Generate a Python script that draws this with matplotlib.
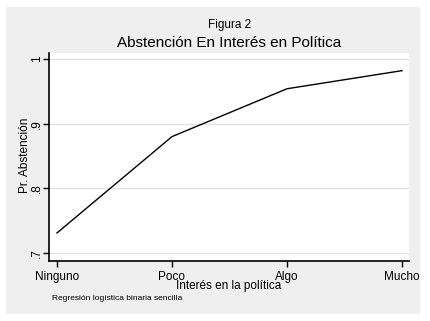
import matplotlib.pyplot as plt
from matplotlib.patches import Rectangle

plt.rcParams['font.family'] = ['Liberation Sans', 'DejaVu Sans']

# predicted probabilities
categorias = ['Ninguno', 'Poco', 'Algo', 'Mucho']
prob = [0.731, 0.880, 0.954, 0.982]
yticks = [0.7, 0.8, 0.9, 1.0]
ylabels = ['.7', '.8', '.9', '1']

W, H = 431, 321
fig = plt.figure(figsize=(W/100, H/100), dpi=100)
fig.patch.set_facecolor('white')
# grey graph region (stata style)
fig.patches.append(Rectangle((6/W, 1-314/H), 414/W, 307/H, transform=fig.transFigure,
                             facecolor='#efefef', edgecolor='none', zorder=-5))

ax = fig.add_axes([49/W, 1-261/H, 360/W, 208/H])
ax.set_zorder(2)
ax.set_facecolor('white')
x = list(range(len(categorias)))
ax.plot(x, prob, color='black', lw=1.0, zorder=3)

ax.set_xlim(-0.0696, 3.061)
ax.set_ylim(0.6876, 1.0093)
ax.set_xticks(x)
ax.set_xticklabels(categorias, fontsize=8.5)
ax.set_yticks(yticks)
ax.set_yticklabels(ylabels, fontsize=8.5, rotation=90, va='center')
ax.yaxis.grid(True, color='#e2e2e2', lw=1.0)
ax.set_axisbelow(True)
for s in ['top', 'right']:
    ax.spines[s].set_visible(False)
for s in ['left', 'bottom']:
    ax.spines[s].set_linewidth(1.2)
ax.tick_params(direction='out', length=4, width=1, color='black')
ax.tick_params(axis='x', pad=3)
ax.tick_params(axis='y', pad=0.5)

fig.text(229/W, 1-286/H, 'Interés en la política', fontsize=8.5, ha='center', va='center')
fig.text(25/W, 1-155/H, 'Pr. Abstención', fontsize=8.5, ha='center', va='center', rotation=90)
fig.text(230/W, 1-25/H, 'Figura 2', fontsize=8.5, ha='center', va='center')
fig.text(229/W, 1-43/H, 'Abstención En Interés en Política', fontsize=11, ha='center', va='center')
fig.text(52/W, 1-299/H, 'Regresión logística binaria sencilla', fontsize=6, ha='left', va='center')

fig.savefig('out.png', dpi=100)
